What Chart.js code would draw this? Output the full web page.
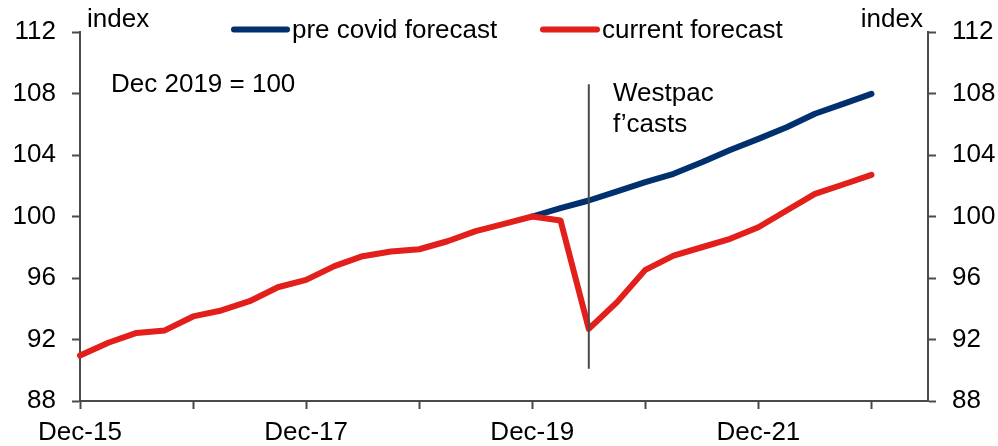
<!DOCTYPE html>
<html>
<head>
<meta charset="utf-8">
<script src="https://cdn.jsdelivr.net/npm/chart.js@4/dist/chart.umd.min.js"></script>
<style>
  html, body { margin: 0; padding: 0; background: #ffffff; }
  #wrap { width: 998px; height: 446px; position: relative; }
</style>
</head>
<body>
<div id="wrap"><canvas id="c"></canvas></div>
<script>
// ---- data ----
const quarters = [
  'Dec-15','Mar-16','Jun-16','Sep-16','Dec-16','Mar-17','Jun-17','Sep-17',
  'Dec-17','Mar-18','Jun-18','Sep-18','Dec-18','Mar-19','Jun-19','Sep-19',
  'Dec-19','Mar-20','Jun-20','Sep-20','Dec-20','Mar-21','Jun-21','Sep-21',
  'Dec-21','Mar-22','Jun-22','Sep-22','Dec-22','Mar-23','Jun-23'
];
const currentForecast = [
  90.96, 91.79, 92.43, 92.59, 93.50, 93.89, 94.49, 95.40,
  95.88, 96.77, 97.42, 97.72, 97.87, 98.39, 99.05, 99.52,
  100.00, 99.74, 92.69, 94.43, 96.53, 97.46, 98.00, 98.55,
  99.30, 100.39, 101.47, 102.08, 102.71
];
const preCovidForecast = [
  null, null, null, null, null, null, null, null,
  null, null, null, null, null, null, null, null,
  100.00, 100.55, 101.04, 101.63, 102.23, 102.78, 103.53, 104.33,
  105.05, 105.81, 106.68, 107.33, 107.98
];
const seriesNames = ['pre covid forecast', 'current forecast'];
const forecastStart = 'Jun-20';
const forecastMarkerRange = [108.6, 90.1];
const yTicks = [88, 92, 96, 100, 104, 108, 112];

const BLUE = '#00306e';
const RED = '#e21f1a';
const AXIS = '#4a4a4a';
const FONT = "'Liberation Sans', Arial, sans-serif";

const annotationPlugin = {
  id: 'annotations',
  afterDraw(chart) {
    const ctx = chart.ctx;
    ctx.save();
    ctx.fillStyle = '#000';
    ctx.textBaseline = 'alphabetic';
    ctx.font = '26px ' + FONT;
    ctx.textAlign = 'left';
    ctx.fillText('index', 87, 27);
    ctx.textAlign = 'right';
    ctx.fillText('index', 923, 27);
    ctx.textAlign = 'left';
    ctx.fillText('Dec 2019 = 100', 111, 92);
    ctx.fillText('Westpac', 613, 101);
    ctx.fillText('f\u2019casts', 613, 132);
    // legend
    const items = [
      { x0: 234, x1: 287, color: BLUE, text: seriesNames[0] },
      { x0: 543, x1: 597, color: RED, text: seriesNames[1] }
    ];
    items.forEach(it => {
      ctx.strokeStyle = it.color;
      ctx.lineWidth = 6;
      ctx.lineCap = 'round';
      ctx.beginPath();
      ctx.moveTo(it.x0, 29.5);
      ctx.lineTo(it.x1, 29.5);
      ctx.stroke();
      ctx.fillStyle = '#000';
      ctx.fillText(it.text, it.x1 + 5, 38);
    });
    ctx.restore();
  }
};

new Chart(document.getElementById('c'), {
  type: 'line',
  data: {
    labels: quarters,
    datasets: [
      {
        label: seriesNames[0],
        data: preCovidForecast,
        borderColor: BLUE,
        backgroundColor: BLUE,
        borderWidth: 6,
        borderCapStyle: 'round',
        borderJoinStyle: 'round',
        pointRadius: 0,
        tension: 0,
        order: 2,
        yAxisID: 'y'
      },
      {
        label: seriesNames[1],
        data: currentForecast,
        borderColor: RED,
        backgroundColor: RED,
        borderWidth: 6,
        borderCapStyle: 'round',
        borderJoinStyle: 'round',
        pointRadius: 0,
        tension: 0,
        order: 1,
        yAxisID: 'y'
      },
      {
        label: 'forecast start',
        data: [
          { x: forecastStart, y: forecastMarkerRange[0] },
          { x: forecastStart, y: forecastMarkerRange[1] }
        ],
        borderColor: AXIS,
        borderWidth: 2,
        pointRadius: 0,
        tension: 0,
        order: 0,
        yAxisID: 'y'
      }
    ]
  },
  options: {
    responsive: true,
    maintainAspectRatio: false,
    animation: false,
    layout: { padding: { top: 32, left: 0, right: 0, bottom: 0 } },
    plugins: {
      legend: { display: false },
      tooltip: { enabled: false }
    },
    scales: {
      x: {
        type: 'category',
        offset: false,
        grid: {
          drawOnChartArea: false,
          drawTicks: true,
          tickLength: 8,
          tickWidth: 2,
          tickColor: c => (c.index % 4 === 0 && c.index <= 28) ? AXIS : 'rgba(0,0,0,0)'
        },
        border: { display: true, color: AXIS, width: 2 },
        ticks: {
          autoSkip: false,
          maxRotation: 0,
          minRotation: 0,
          padding: 8,
          color: '#000',
          font: { family: FONT, size: 26 },
          callback: (v, i) => (i % 8 === 0 ? quarters[i] : '')
        },
        afterFit: s => { s.height = 45; }
      },
      y: {
        position: 'left',
        min: 88,
        max: 112,
        afterBuildTicks: s => { s.ticks = yTicks.map(v => ({ value: v })); },
        grid: { drawOnChartArea: false, drawTicks: true, tickLength: 8, tickWidth: 2, tickColor: AXIS },
        border: { display: true, color: AXIS, width: 2 },
        ticks: { padding: 16, color: '#000', font: { family: FONT, size: 26 } },
        afterFit: s => { s.width = 80; }
      },
      y2: {
        position: 'right',
        min: 88,
        max: 112,
        afterBuildTicks: s => { s.ticks = yTicks.map(v => ({ value: v })); },
        grid: { drawOnChartArea: false, drawTicks: true, tickLength: 8, tickWidth: 2, tickColor: AXIS },
        border: { display: true, color: AXIS, width: 2 },
        ticks: { padding: 16, color: '#000', font: { family: FONT, size: 26 } },
        afterFit: s => { s.width = 70; }
      }
    }
  },
  plugins: [annotationPlugin]
});
</script>
</body>
</html>
